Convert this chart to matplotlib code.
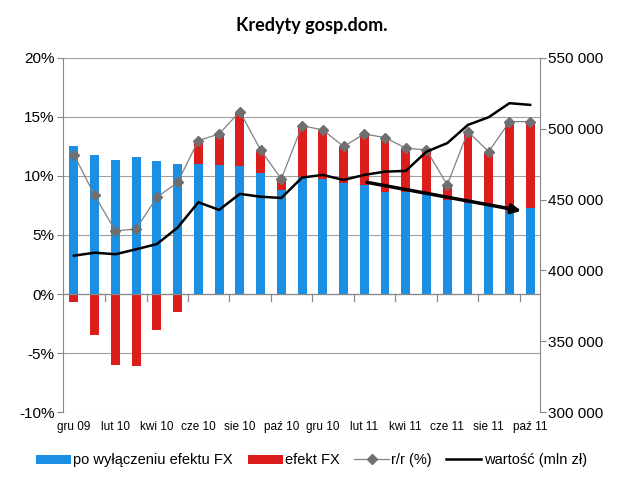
import matplotlib.pyplot as plt
import matplotlib.transforms as mtransforms
import numpy as np

plt.rcParams['font.family'] = ['Liberation Sans', 'DejaVu Sans']

# miesiące gru 09 .. paź 11
months = ['gru 09', 'sty 10', 'lut 10', 'mar 10', 'kwi 10', 'maj 10', 'cze 10', 'lip 10',
          'sie 10', 'wrz 10', 'paź 10', 'lis 10', 'gru 10', 'sty 11', 'lut 11', 'mar 11',
          'kwi 11', 'maj 11', 'cze 11', 'lip 11', 'sie 11', 'wrz 11', 'paź 11']

# dynamika r/r bez efektu kursowego (%)
bez_fx = [12.5, 11.8, 11.35, 11.6, 11.25, 11.0, 11.0, 10.9, 10.85, 10.25, 8.85, 9.9,
          9.7, 9.4, 9.25, 8.6, 8.65, 8.45, 7.95, 7.7, 7.5, 7.0, 7.25]
# dynamika r/r ogółem (%)
rr = [11.8, 8.35, 5.35, 5.5, 8.2, 9.45, 13.0, 13.55, 15.45, 12.2, 9.75, 14.25,
      13.9, 12.5, 13.55, 13.25, 12.35, 12.2, 9.25, 13.75, 12.05, 14.6, 14.6]
# wartość kredytów (mln zł)
wartosc = [410400, 412500, 411400, 414900, 418600, 430200, 448100, 442700, 454000,
           452000, 451100, 465500, 467400, 463800, 467400, 469700, 470200, 483800,
           489800, 502700, 508100, 518000, 516800]

bez_fx = np.array(bez_fx)
rr = np.array(rr)
efekt_fx = rr - bez_fx
x = np.arange(len(months))

blue = '#1a8fe3'
red = '#dd1c1c'

fig = plt.figure(figsize=(6.23, 4.82), dpi=100)
ax = fig.add_axes([0.101, 0.145, 0.766, 0.735])

# słupki: dodatnie od zera, ujemny efekt FX w dół od zera
neg = efekt_fx < 0
b1 = ax.bar(x, bez_fx, width=0.43, color=blue, zorder=2, label='po wyłączeniu efektu FX')
fx_bottom = np.where(neg, 0, bez_fx)
b2 = ax.bar(x, efekt_fx, bottom=fx_bottom, width=0.43, color=red, zorder=2, label='efekt FX')
l1, = ax.plot(x, rr, color='#808080', lw=0.9, marker='D', ms=5, mfc='#6f6f6f', mec='#6f6f6f',
              zorder=4, label='r/r (%)')

ax.set_ylim(-10, 20)
ax.set_xlim(-0.53, len(months) - 0.52)
ax.set_yticks(np.arange(-10, 21, 5))
ax.set_yticklabels([f'{v}%' for v in range(-10, 21, 5)], fontsize=11)
ax.grid(axis='y', color='#a0a0a0', lw=0.8, zorder=0)
ax.set_axisbelow(True)
for s in ['top', 'right', 'bottom']:
    ax.spines[s].set_visible(False)
ax.spines['left'].set_color('#888888')
ax.tick_params(axis='y', color='#888888', length=4, pad=2)

# oś kategorii na poziomie 0%
ax.axhline(0, color='#888888', lw=0.9, zorder=3)
ax.set_xticks([])
trans = mtransforms.blended_transform_factory(ax.transData, ax.transAxes)
for b in np.arange(1.5, len(months) - 1, 2):
    ax.plot([b, b], [0, -0.6], color='#888888', lw=0.9, zorder=3)
for i in range(0, len(months), 2):
    ax.text(i, -0.025, months[i], transform=trans, ha='center', va='top', fontsize=8.5)

ax2 = ax.twinx()
l2, = ax2.plot(x, wartosc, color='black', lw=1.8, zorder=5, label='wartość (mln zł)')
ax2.set_ylim(300000, 550000)
ax2.set_yticks(np.arange(300000, 550001, 50000))
ax2.set_yticklabels([f'{v:,}'.replace(',', ' ') for v in range(300000, 550001, 50000)],
                    fontsize=11)
for s in ['top', 'left', 'bottom']:
    ax2.spines[s].set_visible(False)
ax2.spines['right'].set_color('#888888')
ax2.tick_params(axis='y', color='#888888', length=4, pad=2)

# strzałka trendu
ax.annotate('', xy=(21.7, 7.0), xytext=(14.0, 9.5),
            arrowprops=dict(arrowstyle='-|>', color='black', lw=2.5, mutation_scale=14),
            zorder=6)

fig.suptitle('Kredyty gosp.dom.', fontsize=13, fontweight='bold', y=0.965,
             family=['Lato', 'DejaVu Sans'])

fig.legend([b1, b2, l1, l2],
           ['po wyłączeniu efektu FX', 'efekt FX', 'r/r (%)', 'wartość (mln zł)'],
           loc='center', bbox_to_anchor=(0.5, 0.045), ncol=4,
           frameon=False, fontsize=10.5, handlelength=2.4, handleheight=0.6,
           handletextpad=0.15, columnspacing=1.0)

plt.savefig('out.png', dpi=100)
